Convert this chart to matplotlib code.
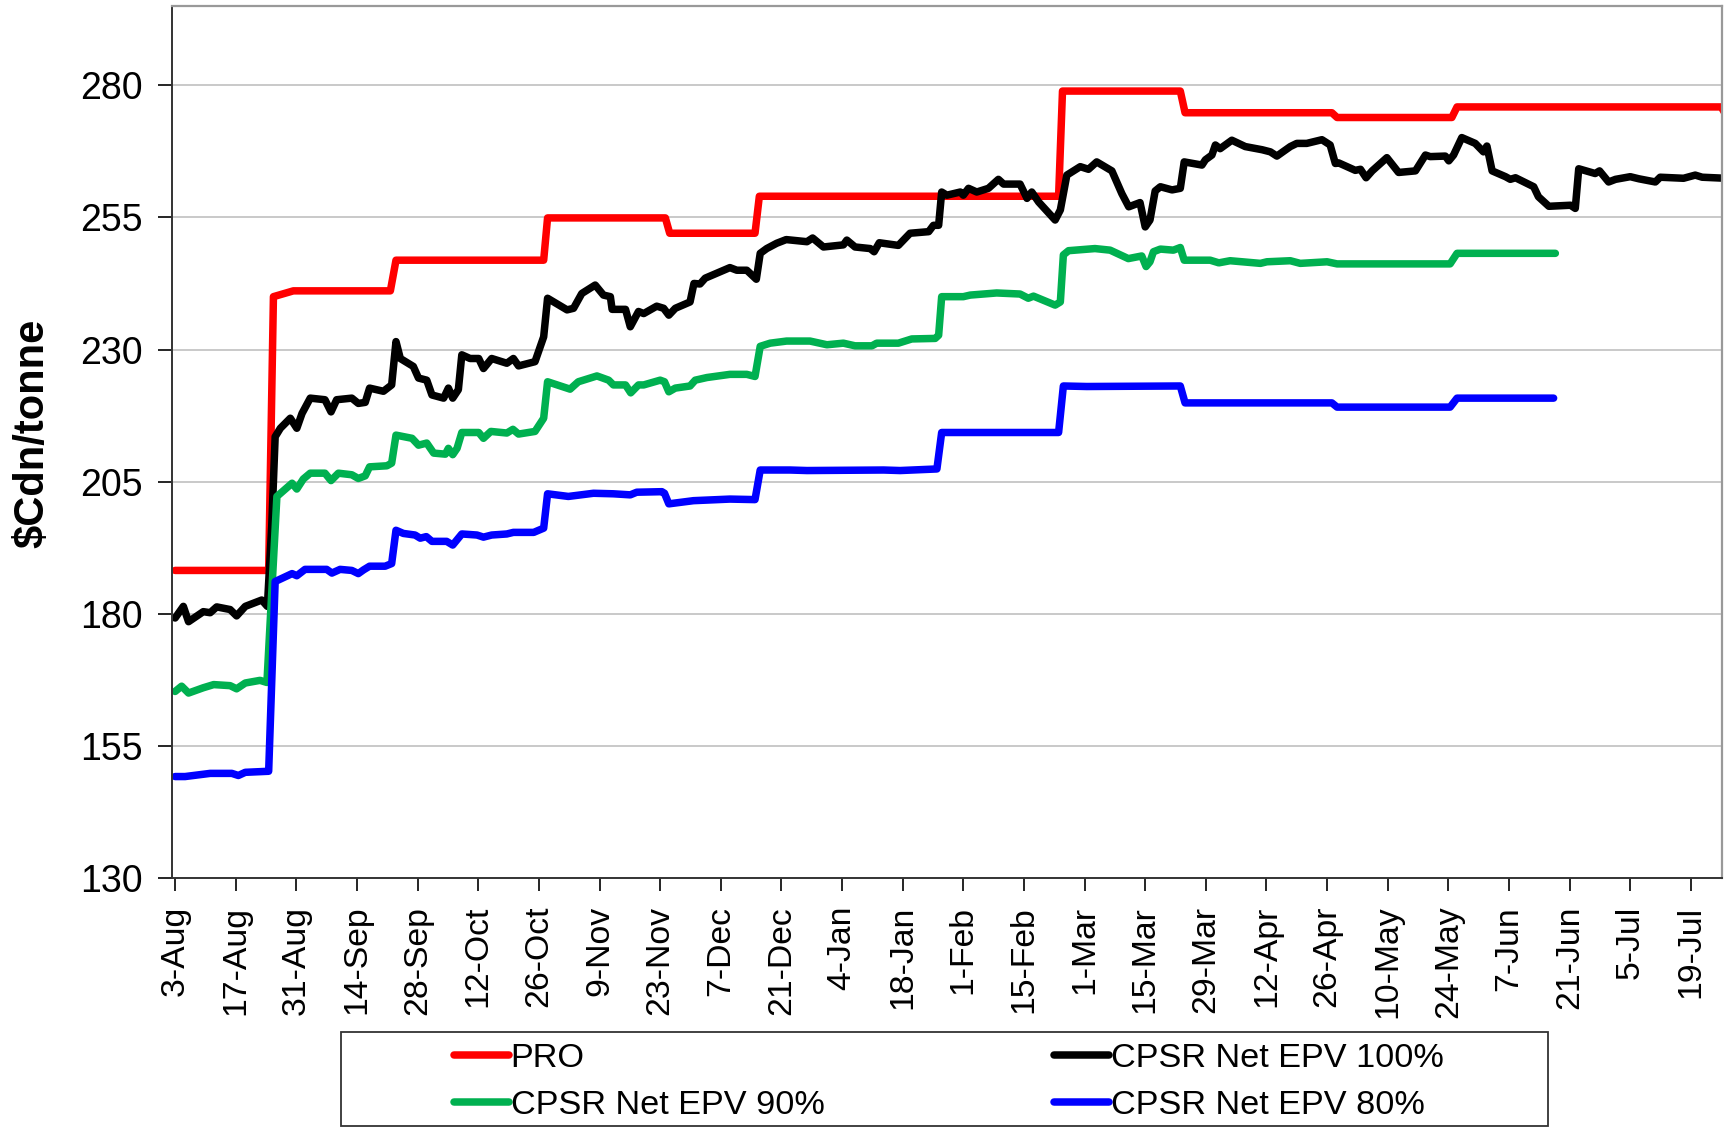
import datetime as dt

import matplotlib
matplotlib.use('Agg')
import matplotlib.pyplot as plt
import matplotlib.dates as mdates
from matplotlib.patches import Rectangle

plt.rcParams['font.family'] = ['Liberation Sans', 'DejaVu Sans']

start = dt.date(2009, 8, 3)

# days after 3-Aug and $Cdn/tonne values
pro_days = [0, 21.6, 22.7, 27.3, 49.7, 51.0, 85.1, 86.0, 113.2, 114.2, 133.9, 134.9,
            204.0, 204.9, 232.1, 233.2, 267.1, 268.3, 294.8, 296.0, 357.0, 358.0]
pro_vals = [188.2, 188.2, 240.0, 241.1, 241.1, 246.9, 246.9, 254.9, 254.9, 252.0, 252.0, 259.0,
            259.0, 278.9, 278.9, 274.8, 274.8, 273.9, 273.9, 275.9, 275.9, 274.5]

net100_days = [0, 1.9, 3.1, 6.5, 8.1, 9.6, 12.7, 14.2, 16.2, 20.0, 21.3, 22.3, 23.1, 24.3, 26.6,
               28.1, 29.3, 31.2, 34.6, 36.0, 37.3, 40.8, 42.3, 43.9, 44.9, 48.1, 50.0, 51.0, 52.0,
               55.0, 56.2, 58.1, 59.3, 62.0, 63.1, 64.1, 65.4, 66.2, 68.1, 70.1, 71.2, 73.1, 76.6,
               78.1, 79.3, 83.1, 85.1, 86.0, 90.5, 92.0, 93.9, 97.0, 98.9, 100.5, 100.9, 104.0,
               105.1, 107.0, 108.2, 111.2, 112.8, 114.0, 115.5, 118.9, 119.8, 121.2, 122.4, 125.8,
               128.1, 129.7, 132.0, 134.2, 135.1, 136.6, 138.9, 141.1, 145.9, 147.2, 149.7, 154.3,
               155.1, 157.0, 160.5, 161.4, 162.6, 167.0, 169.7, 174.0, 175.1, 176.3, 177.0, 178.2,
               181.3, 182.0, 183.2, 185.1, 187.8, 190.1, 191.3, 195.1, 196.7, 197.8, 199.4, 203.2,
               204.4, 205.9, 209.0, 210.9, 212.8, 216.3, 218.6, 220.2, 222.8, 224.0, 225.1, 226.3,
               227.5, 230.2, 232.1, 233.0, 237.1, 237.9, 239.4, 240.2, 241.3, 244.0, 247.1, 251.0,
               252.9, 254.4, 257.5, 259.0, 261.3, 264.8, 266.7, 267.9, 268.7, 272.5, 273.7, 275.0,
               276.4, 279.8, 282.5, 286.4, 288.7, 289.8, 293.3, 294.1, 295.2, 297.1, 300.2, 302.1,
               302.9, 304.1, 307.2, 308.3, 309.5, 313.7, 314.8, 317.2, 322.2, 323.3, 324.1, 327.9,
               328.9, 331.0, 332.6, 336.0, 338.0, 341.8, 342.9, 348.3, 351.0, 352.6, 358.0]
net100_vals = [179.2, 181.4, 178.5, 180.4, 180.2, 181.3, 180.8, 179.6, 181.4, 182.6, 181.4, 196.5,
               213.5, 215.1, 217.0, 215.1, 217.9, 220.8, 220.5, 218.2, 220.5, 220.8, 219.8, 220.0,
               222.7, 222.1, 223.3, 231.5, 228.3, 226.8, 224.6, 224.2, 221.4, 220.8, 222.7, 220.8,
               222.4, 229.0, 228.3, 228.3, 226.4, 228.3, 227.4, 228.3, 226.9, 227.7, 232.4, 239.7,
               237.5, 237.8, 240.6, 242.2, 240.3, 240.0, 237.6, 237.6, 234.3, 237.2, 236.8, 238.2,
               237.8, 236.5, 237.8, 239.0, 242.5, 242.4, 243.5, 244.7, 245.5, 245.0, 245.0, 243.3,
               248.2, 249.1, 250.1, 250.8, 250.4, 251.1, 249.4, 249.8, 250.7, 249.4, 249.1, 248.5,
               250.2, 249.7, 252.0, 252.3, 253.5, 253.5, 259.8, 259.2, 259.8, 259.2, 260.5, 259.8,
               260.5, 262.2, 261.3, 261.3, 258.6, 259.8, 257.9, 254.5, 256.4, 263.0, 264.6, 264.1,
               265.5, 263.8, 259.5, 257.0, 257.8, 253.2, 254.5, 260.0, 260.8, 260.2, 260.5, 265.5,
               264.9, 265.9, 266.8, 268.7, 268.0, 269.6, 268.4, 267.8, 267.4, 266.6, 268.4, 269.0,
               269.0, 269.7, 268.7, 265.2, 265.3, 263.9, 264.1, 262.5, 263.8, 266.3, 263.5, 263.8,
               266.8, 266.5, 266.6, 265.7, 266.8, 270.1, 269.0, 267.4, 268.5, 263.8, 262.7, 262.2,
               262.5, 260.8, 258.9, 257.1, 257.3, 256.7, 264.2, 263.3, 263.8, 261.7, 262.2, 262.7,
               262.3, 261.7, 262.6, 262.4, 263.0, 262.6, 262.4]

net90_days = [0, 1.5, 3.1, 6.5, 8.9, 12.7, 14.2, 16.2, 19.6, 21.2, 23.5, 27.0, 28.1, 29.6, 31.2,
              34.6, 36.0, 37.7, 40.8, 42.3, 43.9, 44.9, 48.9, 50.0, 51.0, 54.7, 56.2, 58.1, 59.7,
              62.4, 63.1, 64.1, 65.1, 66.2, 70.1, 71.2, 72.9, 76.6, 78.0, 79.3, 83.1, 85.1, 86.0,
              91.2, 93.1, 97.4, 100.1, 101.2, 104.0, 105.2, 107.0, 108.2, 112.0, 113.0, 114.0,
              115.5, 118.9, 120.1, 122.8, 128.1, 132.0, 133.9, 135.1, 137.4, 141.2, 146.6, 150.5,
              154.3, 157.0, 160.9, 162.0, 167.0, 170.1, 175.5, 176.3, 177.0, 182.0, 183.6, 189.7,
              195.1, 197.0, 198.2, 203.2, 204.4, 205.1, 206.3, 212.4, 215.9, 220.1, 223.2, 224.2,
              225.1, 225.9, 227.5, 230.5, 232.1, 233.0, 239.0, 241.0, 243.6, 250.6, 252.1, 257.5,
              259.8, 266.0, 268.3, 294.4, 296.0, 318.7]
net90_vals = [165.3, 166.3, 165.0, 166.0, 166.6, 166.4, 165.8, 166.9, 167.4, 167.0, 202.2, 204.7,
              203.6, 205.5, 206.6, 206.6, 205.2, 206.6, 206.3, 205.6, 206.1, 207.8, 208.0, 208.5,
              213.8, 213.2, 211.9, 212.3, 210.4, 210.2, 211.3, 210.1, 211.3, 214.3, 214.3, 213.2,
              214.5, 214.2, 214.9, 214.0, 214.5, 217.0, 223.9, 222.5, 223.9, 225.0, 224.2, 223.3,
              223.3, 221.8, 223.3, 223.3, 224.2, 223.9, 222.0, 222.7, 223.1, 224.2, 224.7, 225.3,
              225.3, 224.9, 230.6, 231.2, 231.6, 231.6, 230.9, 231.2, 230.7, 230.7, 231.2, 231.2,
              232.0, 232.1, 232.7, 240.0, 240.0, 240.3, 240.7, 240.5, 239.7, 240.1, 238.4, 239.0,
              247.9, 248.7, 249.1, 248.8, 247.2, 247.7, 245.7, 246.6, 248.5, 249.0, 248.8, 249.3,
              246.9, 246.9, 246.4, 246.8, 246.3, 246.6, 246.8, 246.3, 246.6, 246.2, 246.2, 248.2,
              248.2]

net80_days = [0, 2.3, 8.1, 13.1, 14.6, 16.2, 21.6, 23.1, 27.0, 28.1, 30.0, 35.0, 36.2, 38.1,
              40.8, 42.3, 43.5, 44.9, 48.5, 50.0, 51.0, 52.7, 55.4, 56.6, 58.0, 59.3, 62.7, 64.1,
              66.2, 69.7, 71.2, 73.1, 76.6, 78.1, 82.8, 85.1, 86.0, 90.8, 96.6, 101.2, 105.1,
              106.6, 112.4, 113.0, 114.0, 119.7, 128.1, 133.9, 135.1, 142.0, 145.9, 163.6, 167.4,
              175.9, 177.0, 204.0, 205.1, 210.5, 232.1, 233.2, 267.1, 268.3, 294.4, 296.0, 318.3]
net80_vals = [149.2, 149.2, 149.8, 149.8, 149.4, 150.0, 150.2, 186.1, 187.6, 187.2, 188.4, 188.4,
              187.7, 188.4, 188.2, 187.6, 188.3, 189.0, 189.0, 189.5, 195.8, 195.2, 194.9, 194.3,
              194.6, 193.7, 193.7, 193.0, 195.1, 194.9, 194.5, 194.9, 195.1, 195.4, 195.4, 196.2,
              202.7, 202.2, 202.8, 202.7, 202.5, 203.0, 203.1, 202.8, 200.8, 201.4, 201.7, 201.6,
              207.2, 207.2, 207.1, 207.2, 207.1, 207.4, 214.3, 214.3, 223.1, 223.0, 223.1, 219.9,
              219.9, 219.1, 219.1, 220.8, 220.8]

tick_labels = ['3-Aug', '17-Aug', '31-Aug', '14-Sep', '28-Sep', '12-Oct', '26-Oct', '9-Nov',
               '23-Nov', '7-Dec', '21-Dec', '4-Jan', '18-Jan', '1-Feb', '15-Feb', '1-Mar',
               '15-Mar', '29-Mar', '12-Apr', '26-Apr', '10-May', '24-May', '7-Jun', '21-Jun',
               '5-Jul', '19-Jul']

base = mdates.date2num(start)


def to_x(days):
    return [base + d for d in days]


fig = plt.figure(figsize=(17.33, 11.29), dpi=100)
ax = fig.add_axes([0.0993, 0.2223, 0.8944, 0.7724])

lw = 5.4
l_pro, = ax.plot(to_x(pro_days), pro_vals, color='#FF0000', lw=lw, label='PRO')
l_100, = ax.plot(to_x(net100_days), net100_vals, color='#000000', lw=lw, label='CPSR Net EPV 100%')
l_90, = ax.plot(to_x(net90_days), net90_vals, color='#00B050', lw=lw, label='CPSR Net EPV 90%')
l_80, = ax.plot(to_x(net80_days), net80_vals, color='#0000FF', lw=lw, label='CPSR Net EPV 80%')
for l in (l_pro, l_100, l_90, l_80):
    l.set_solid_capstyle('round')
    l.set_solid_joinstyle('round')

ax.set_xlim(base - 0.7, base + 357.2)
ax.set_ylim(130, 295)
ax.set_yticks(range(130, 281, 25))
ax.set_xticks([base + 14 * i for i in range(len(tick_labels))])
ax.set_xticklabels(tick_labels, rotation=90)

ax.tick_params(axis='y', labelsize=27, length=10, width=1.2, pad=11)
ax.tick_params(axis='x', labelsize=24.3, length=9, width=1.2, pad=11)

ax.grid(axis='y', color='#C0C0C0', lw=1.2)
ax.set_axisbelow(True)
for side in ('left', 'bottom'):
    ax.spines[side].set_color('#333333')
    ax.spines[side].set_linewidth(1.4)
for side in ('top', 'right'):
    ax.spines[side].set_color('#999999')
    ax.spines[side].set_linewidth(1.6)

ax.set_ylabel('$Cdn/tonne', fontsize=30, fontweight='bold')
ax.yaxis.set_label_coords(-0.077, 0.51)

fig.legend([l_pro, l_90, l_100, l_80],
           ['PRO', 'CPSR Net EPV 90%', 'CPSR Net EPV 100%', 'CPSR Net EPV 80%'],
           ncol=2, loc='center', bbox_to_anchor=(0.5475, 0.0415), frameon=False,
           fontsize=24.7, handlelength=1.6, handletextpad=0.05, columnspacing=6.7,
           labelspacing=0.45, borderpad=0.2)
fig.add_artist(Rectangle((0.1968, 0.0027), 0.6965, 0.0833, transform=fig.transFigure,
                         fill=False, edgecolor='#333333', lw=1.3))

fig.savefig('out.png', dpi=100)
